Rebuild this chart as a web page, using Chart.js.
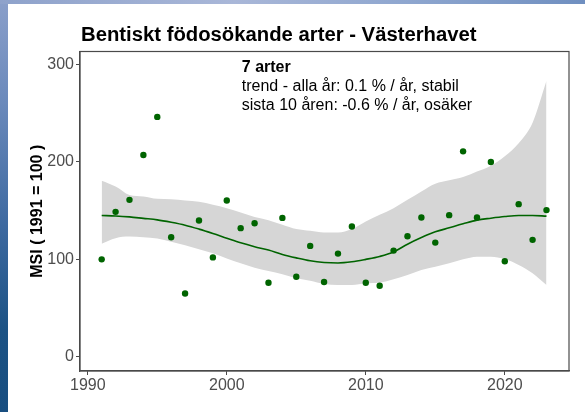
<!DOCTYPE html>
<html>
<head>
<meta charset="utf-8">
<script src="https://cdn.jsdelivr.net/npm/chart.js@4"></script>
<style>
  html, body { margin: 0; padding: 0; background: #ffffff; }
  #wrap { position: relative; width: 585px; height: 412px; overflow: hidden; background: #ffffff; }
  #c { position: absolute; left: 0; top: 0; }
  #stripL { position: absolute; left: 0; top: 0; width: 8px; height: 412px;
    background: linear-gradient(to bottom, #8a9fca 0%, #6a89bb 25%, #3d69a0 55%, #1c5284 80%, #184e80 100%); }
  #stripT { position: absolute; left: 0; top: 0; width: 585px; height: 4px;
    background: linear-gradient(to right, #8ea2cb 0%, #a9b7d8 40%, #8ea6cf 70%, #6f8fc0 100%); }
</style>
</head>
<body>
<div id="wrap">
  <canvas id="c" width="585" height="412"></canvas>
  <div id="stripL"></div>
  <div id="stripT"></div>
</div>
<script>
// ---- data ----
const years = [1991,1992,1993,1994,1995,1996,1997,1998,1999,2000,2001,2002,2003,2004,2005,2006,2007,2008,2009,2010,2011,2012,2013,2014,2015,2016,2017,2018,2019,2020,2021,2022,2023];
const msi = [100,148.7,161,207,246,122.6,65,139.8,102,160.3,132,137,76,142.5,82.2,113.8,76.8,105.9,133.6,76,73,109,123.7,142.9,117.2,145.3,210.7,142.9,199.8,98,156.6,120,150.5];
const smooth = [145,144.5,143.5,142,140.5,138,135,131,126.5,121.7,117,113,109.5,105,101.5,98.5,96.8,96.3,97.5,100,103,107.6,115.5,122.3,128.2,132.3,136.4,140.2,142.2,143.9,145,145,144.3];
const upper = [180.6,174.7,166,164.4,162,161.7,160.3,159,156,152.5,148,143.3,140,135.4,131,129.2,127.5,127.5,131,138.8,145.6,152.5,161,169.6,177.5,181,184.4,190,196,205.7,219,240,283];
const lower = [116,121.7,123.3,122.7,121.3,118,114.5,110.4,106.3,101,96,91.5,88,84.7,80.6,78,74.7,73.7,73.7,75.4,76,79.5,84,89,92.5,96,100,102.8,102.8,100.4,94.3,85.7,73.7];
const xTicks = [1990,2000,2010,2020];
const yTicks = [0,100,200,300];
const titleText = "Bentiskt födosökande arter - Västerhavet";
const yTitle = "MSI ( 1991 = 100 )";
const noteLines = ["7 arter", "trend - alla år: 0.1 % / år, stabil", "sista 10 åren: -0.6 % / år, osäker"];

const FONT = "'Liberation Sans', Arial, sans-serif";
const pts = (ys) => years.map((y, i) => ({x: y, y: ys[i]}));

const decor = {
  id: 'decor',
  afterDraw(chart) {
    const ctx = chart.ctx, a = chart.chartArea;
    ctx.save();
    // panel border (top/right)
    ctx.strokeStyle = '#4a4a4a';
    ctx.lineWidth = 1.2;
    ctx.strokeRect(a.left, a.top, a.right - a.left, a.bottom - a.top);
    // title
    ctx.fillStyle = '#000000';
    ctx.font = "bold 20.3px " + FONT;
    ctx.textBaseline = 'alphabetic';
    ctx.textAlign = 'left';
    ctx.fillText(titleText, a.left + 1, 40.5);
    // annotation
    const nx = chart.scales.x.getPixelForValue(2001.08);
    ctx.textBaseline = 'middle';
    noteLines.forEach((t, i) => {
      ctx.font = (i === 0 ? "bold " : "") + "16px " + FONT;
      ctx.fillStyle = '#000000';
      ctx.fillText(t, nx, 67.5 + i * 19.2);
    });
    ctx.restore();
  }
};

new Chart(document.getElementById('c'), {
  type: 'scatter',
  data: {
    datasets: [
      { label: 'MSI', data: pts(msi), backgroundColor: '#006400', borderColor: '#006400',
        pointRadius: 3.2, pointHoverRadius: 3.2, borderWidth: 0, order: 0 },
      { type: 'line', label: 'trend', data: pts(smooth), borderColor: '#006400', borderWidth: 1.6,
        pointRadius: 0, cubicInterpolationMode: 'monotone', fill: false, order: 1 },
      { type: 'line', label: 'upper', data: pts(upper), borderWidth: 0, borderColor: 'rgba(0,0,0,0)',
        backgroundColor: '#d6d6d6', pointRadius: 0, cubicInterpolationMode: 'monotone', fill: '+1', order: 2 },
      { type: 'line', label: 'lower', data: pts(lower), borderWidth: 0, borderColor: 'rgba(0,0,0,0)',
        backgroundColor: '#d6d6d6', pointRadius: 0, cubicInterpolationMode: 'monotone', fill: false, order: 3 }
    ]
  },
  options: {
    responsive: false,
    animation: false,
    layout: { padding: { left: 0, top: 51.5, right: 16, bottom: 0 } },
    plugins: { legend: { display: false }, tooltip: { enabled: false }, title: { display: false } },
    scales: {
      x: {
        type: 'linear', min: 1989.44, max: 2024.62,
        afterBuildTicks: (s) => { s.ticks = xTicks.map(v => ({value: v})); },
        afterFit: (s) => { s.height = 41; },
        grid: { drawOnChartArea: false, drawTicks: true, tickLength: 4, tickColor: '#4a4a4a', tickWidth: 1 },
        border: { display: true, color: '#4a4a4a', width: 1.2 },
        ticks: { color: '#4d4d4d', font: { size: 16, family: FONT }, padding: 1, maxRotation: 0, autoSkip: false,
                 callback: (v) => String(v) }
      },
      y: {
        type: 'linear', min: -14.4, max: 313,
        afterBuildTicks: (s) => { s.ticks = yTicks.map(v => ({value: v})); },
        afterFit: (s) => { s.width = 80; },
        grid: { drawOnChartArea: false, drawTicks: true, tickLength: 4, tickColor: '#4a4a4a', tickWidth: 1 },
        border: { display: true, color: '#4a4a4a', width: 1.2 },
        ticks: { color: '#4d4d4d', font: { size: 16, family: FONT }, padding: 2, autoSkip: false,
                 callback: (v) => String(v) },
        title: { display: true, text: yTitle, color: '#000000', font: { size: 16, weight: 'bold', family: FONT },
                 padding: { top: 28, bottom: 0 } }
      }
    }
  },
  plugins: [decor]
});
</script>
</body>
</html>
